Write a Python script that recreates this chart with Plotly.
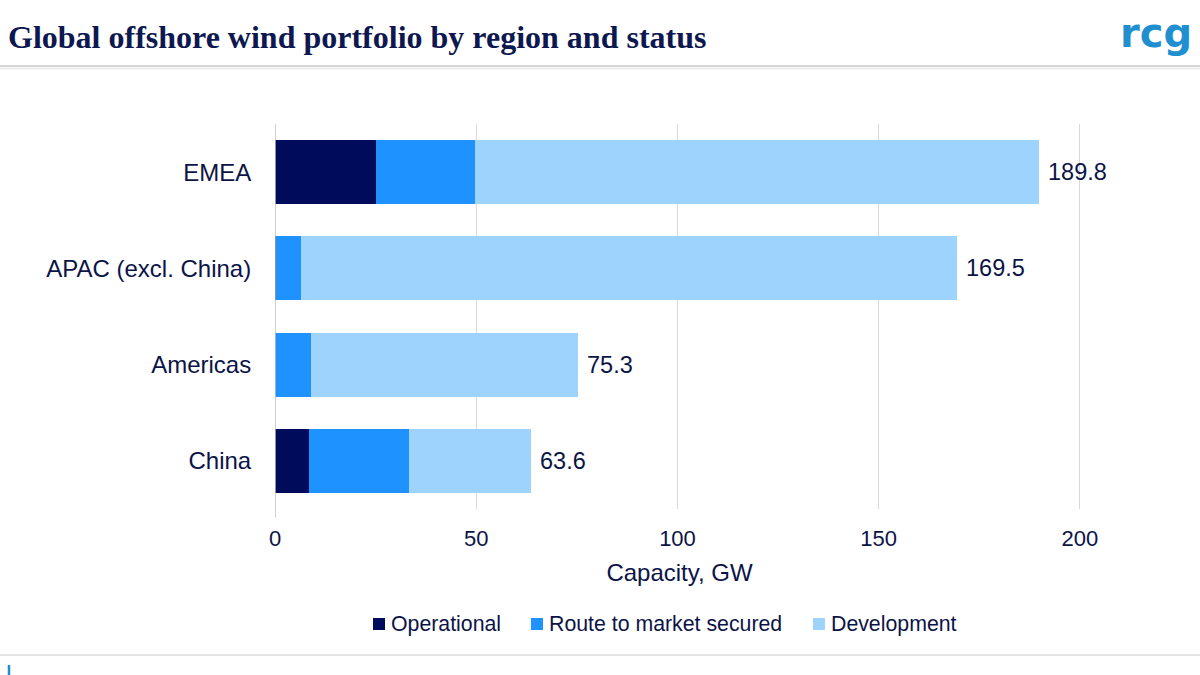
import plotly.graph_objects as go

regions = ["EMEA", "APAC (excl. China)", "Americas", "China"]
operational = [25.0, 0.3, 0.05, 8.5]
route_to_market = [24.6, 6.2, 8.85, 24.9]
development = [140.2, 163.0, 66.4, 30.2]
totals = [189.8, 169.5, 75.3, 63.6]
total_labels = ["189.8", "169.5", "75.3", "63.6"]
series_names = ["Operational", "Route to market secured", "Development"]
series_colors = ["#000b5c", "#1e93ff", "#9dd3fd"]

W, H = 1200, 675
L, R, T, B = 275, 1084, 124, 509
PW, PH = R - L, B - T


def px(x):
    return (x - L) / PW


def py(y):
    return (B - y) / PH


navy_text = "#0c1447"
fig = go.Figure()
for name, vals, col in zip(series_names, [operational, route_to_market, development], series_colors):
    fig.add_trace(go.Bar(y=regions, x=vals, name=name, orientation="h",
                         marker=dict(color=col, line=dict(width=0))))

annotations = [
    dict(text="<b>Global offshore wind portfolio by region and status</b>", xref="paper", yref="paper",
         x=px(6), y=py(37), xanchor="left", yanchor="middle", showarrow=False,
         font=dict(family="Liberation Serif", size=32, color="#0d1850")),
    dict(text="<b>rcg</b>", xref="paper", yref="paper",
         x=px(1194), y=py(33), xanchor="right", yanchor="middle", showarrow=False,
         font=dict(family="DejaVu Sans", size=40, color="#1f8fd0")),
]
for reg, tot, lab in zip(regions, totals, total_labels):
    annotations.append(dict(text=lab, x=tot, y=reg, xref="x", yref="y", xanchor="left",
                            yanchor="middle", xshift=7, showarrow=False,
                            font=dict(size=23.5, color=navy_text)))

# manual legend (square marker + label)
legend_marker_x = [373, 531, 813]
legend_y = 624
shapes = [
    dict(type="line", xref="x", yref="paper", x0=0, x1=0, y0=py(124), y1=py(517),
         line=dict(color="#bfbfbf", width=1.5)),
    dict(type="line", xref="paper", yref="paper", x0=px(0), x1=px(1200), y0=py(66), y1=py(66),
         line=dict(color="#d6d6d6", width=2)),
    dict(type="line", xref="paper", yref="paper", x0=px(0), x1=px(1200), y0=py(68.5), y1=py(68.5),
         line=dict(color="#eeeeee", width=2)),
    dict(type="line", xref="paper", yref="paper", x0=px(0), x1=px(1200), y0=py(655), y1=py(655),
         line=dict(color="#dddddd", width=1.5)),
    dict(type="line", xref="paper", yref="paper", x0=px(9), x1=px(9), y0=py(665), y1=py(675),
         line=dict(color="#1f8fd0", width=2.5)),
]
for mx, name, col in zip(legend_marker_x, series_names, series_colors):
    shapes.append(dict(type="rect", xref="paper", yref="paper", x0=px(mx), x1=px(mx + 12),
                       y0=py(legend_y - 6), y1=py(legend_y + 6), fillcolor=col, line=dict(width=0)))
    annotations.append(dict(text=name, xref="paper", yref="paper", x=px(mx + 16), y=py(legend_y),
                            xanchor="left", yanchor="middle", showarrow=False,
                            font=dict(size=21.3, color=navy_text)))

fig.update_layout(
    width=W, height=H,
    margin=dict(l=L, r=W - R, t=T, b=H - B),
    barmode="stack", bargap=0.335,
    plot_bgcolor="white", paper_bgcolor="white",
    font=dict(family="Liberation Sans", size=22, color=navy_text),
    showlegend=False,
    xaxis=dict(range=[0, 201], tickvals=[0, 50, 100, 150, 200], showgrid=True,
               gridcolor="#d9d9d9", gridwidth=1, zeroline=False, showline=False,
               ticks="outside", ticklen=10, tickcolor="rgba(0,0,0,0)",
               tickfont=dict(size=22, color=navy_text),
               title=dict(text="Capacity, GW", font=dict(size=24, color=navy_text), standoff=13)),
    yaxis=dict(autorange="reversed", showgrid=False, zeroline=False, showline=False,
               ticks="outside", ticklen=18, tickcolor="rgba(0,0,0,0)",
               tickfont=dict(size=24, color=navy_text)),
    shapes=shapes,
    annotations=annotations,
)

fig.write_html("out.html", config={"displayModeBar": False},
               post_script="document.body.style.margin='0';")
